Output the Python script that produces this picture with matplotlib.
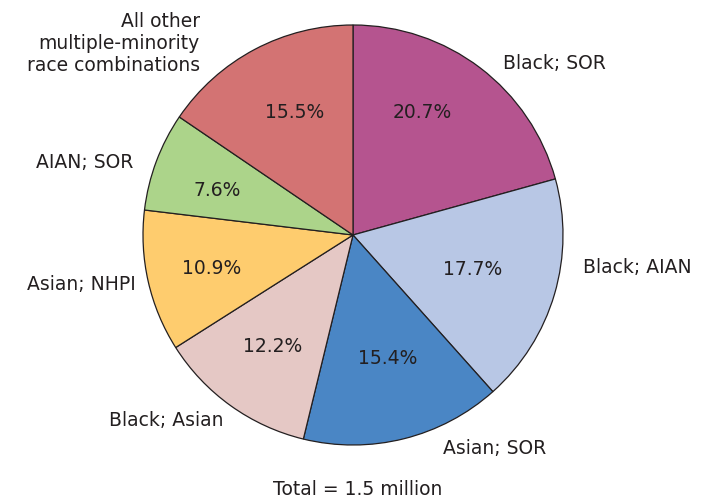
import matplotlib
matplotlib.use('Agg')
import matplotlib.pyplot as plt

# 数据
labels = ['Black; SOR', 'Black; AIAN', 'Asian; SOR', 'Black; Asian',
          'Asian; NHPI', 'AIAN; SOR',
          'All other\nmultiple-minority\nrace combinations']
shares = [20.7, 17.7, 15.4, 12.2, 10.9, 7.6, 15.5]
colors = ['#B5548F', '#B8C7E5', '#4A86C5', '#E5C8C5',
          '#FECC6E', '#ACD48A', '#D37373']
total_note = 'Total = 1.5 million'

# 标签位置（以半径为单位）
label_pos = [(0.714, 0.819, 'left'), (1.095, -0.157, 'left'),
             (0.429, -1.019, 'left'), (-0.619, -0.881, 'right'),
             (-1.033, -0.238, 'right'), (-1.048, 0.343, 'right'),
             (-0.729, 0.914, 'right')]
pct_pos = [(0.329, 0.581), (0.571, -0.164), (0.167, -0.588),
           (-0.381, -0.533), (-0.671, -0.160), (-0.648, 0.210),
           (-0.276, 0.581)]

text_color = '#231F20'
plt.rcParams['font.family'] = ['DejaVu Sans']
fs = 13.5

W, H = 704, 503
cx, cy, r = 353, 235, 210

fig = plt.figure(figsize=(W / 100, H / 100), dpi=100)
ax = fig.add_axes([(cx - r) / W, (H - cy - r) / H, 2 * r / W, 2 * r / H])

wedges, texts, autotexts = ax.pie(
    shares, colors=colors, startangle=90, counterclock=False,
    autopct='%.1f%%', pctdistance=0.65,
    wedgeprops=dict(edgecolor='#231F20', linewidth=0.9),
    textprops=dict(color=text_color, fontsize=fs))
for t, p in zip(autotexts, pct_pos):
    t.set_position(p)
ax.set_xlim(-1, 1)
ax.set_ylim(-1, 1)
ax.set_aspect('equal')
ax.axis('off')

for lab, (x, y, ha) in zip(labels, label_pos):
    ax.text(x, y, lab, ha=ha, va='center', fontsize=fs, color=text_color,
            multialignment=ha, linespacing=1.2, clip_on=False)

ax.text(0.02, -1.214, total_note, ha='center', va='center', fontsize=fs,
        color=text_color, clip_on=False)

fig.savefig('out.png', dpi=100)
